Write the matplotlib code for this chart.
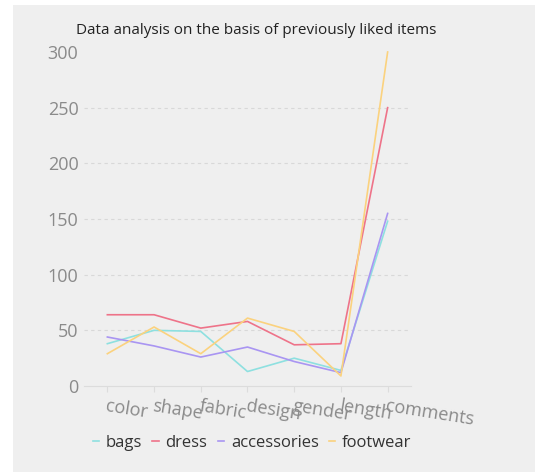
import matplotlib
matplotlib.use("Agg")
import matplotlib.pyplot as plt
from matplotlib.patches import Rectangle

categories = ["color", "shape", "fabric", "design", "gender", "length", "comments"]
bags = [38, 50, 49, 13, 25, 14, 148]
dress = [64, 64, 52, 58, 37, 38, 250]
accessories = [44, 36, 26, 35, 22, 12, 155]
footwear = [29, 53, 29, 61, 49, 9, 300]

series = [
    ("bags", bags, "#8ee0e0"),
    ("dress", dress, "#ee7389"),
    ("accessories", accessories, "#a995f2"),
    ("footwear", footwear, "#fbd27e"),
]

fig = plt.figure(figsize=(5.35, 4.72), dpi=100, facecolor="white")
# light grey card behind everything
fig.patches.append(Rectangle((13 / 535, 0), 1, 1 - 5 / 472, transform=fig.transFigure,
                             facecolor="#efefef", edgecolor="none", zorder=-10))

ax = fig.add_axes([84 / 535, 1 - 386 / 472, 327 / 535, 334 / 472])
ax.set_facecolor("none")

x = range(len(categories))
for name, vals, col in series:
    ax.plot(x, vals, color=col, lw=1.2, label=name, clip_on=False)

ax.set_xlim(-0.5, 6.5)
ax.set_ylim(0, 300)
ax.set_yticks([0, 50, 100, 150, 200, 250, 300])
ax.set_xticks(list(x))
ax.set_xticklabels(categories, rotation=-9, ha="left", rotation_mode="anchor",
                   fontsize=13, color="#8a8a8a", family="Open Sans")
for lbl in ax.get_yticklabels():
    lbl.set_fontsize(13)
    lbl.set_color("#8a8a8a")
    lbl.set_family("Open Sans")
ax.tick_params(axis="y", length=0, pad=4)
ax.tick_params(axis="x", length=4, color="#dcdcdc", pad=4)

for v in [50, 100, 150, 200, 250]:
    ax.axhline(v, color="#d8d8d8", lw=0.8, ls=(0, (3, 3)), zorder=0)
for s in ["top", "right", "left"]:
    ax.spines[s].set_visible(False)
ax.spines["bottom"].set_color("#dcdcdc")

fig.text(256 / 535, 1 - 30 / 472, "Data analysis on the basis of previously liked items",
         ha="center", va="center", fontsize=11, color="#222222", family="Open Sans")

leg = fig.legend(loc="center", bbox_to_anchor=(252 / 535, 1 - 443 / 472), ncol=4,
                 frameon=False, handlelength=0.4, handletextpad=0.4, columnspacing=0.6,
                 prop={"family": "Open Sans", "size": 12})
for t in leg.get_texts():
    t.set_color("#333333")

fig.savefig("out.png", dpi=100, facecolor="white")
